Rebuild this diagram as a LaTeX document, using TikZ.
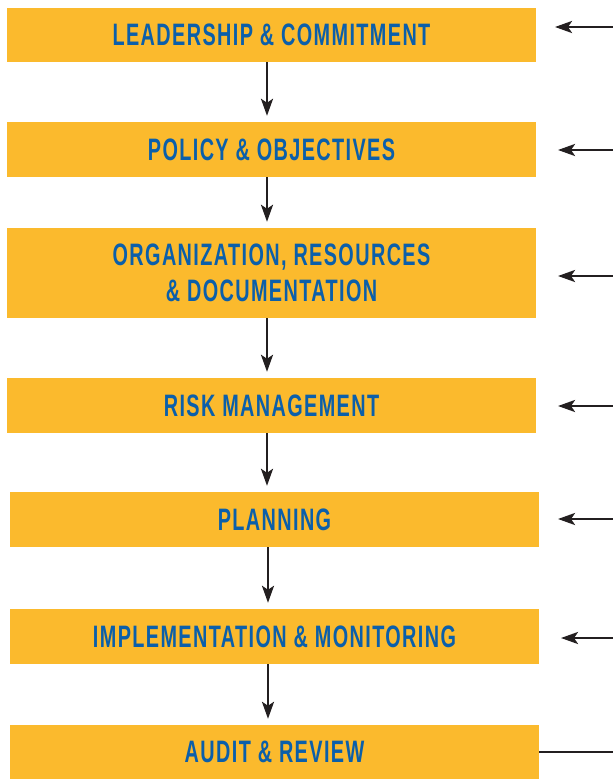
\documentclass[tikz,border=0pt]{standalone}
\usepackage{fontspec}
\newfontfamily\boxfont[FakeStretch=0.64,LetterSpace=4.5]{Liberation Sans}
\usetikzlibrary{arrows.meta}
\definecolor{boxyellow}{HTML}{FBBA2D}
\definecolor{boxblue}{HTML}{0B5FAA}
\definecolor{arrowdark}{HTML}{231F20}
\begin{document}
\begin{tikzpicture}[x=1pt,y=-1pt,
  stepbox/.style={fill=boxyellow, draw=none, minimum width=529pt, inner sep=0pt,
    font=\boxfont\bfseries\fontsize{31}{36}\selectfont, text=boxblue, align=center},
  tip/.style={-{Stealth[length=17pt,width=12pt,inset=4pt]}},
  down/.style={draw=arrowdark, line width=2.6pt, tip, shorten >=6pt},
  feed/.style={draw=arrowdark, line width=2.6pt, tip},
  plain/.style={draw=arrowdark, line width=2.6pt}]
\useasboundingbox (0,0) rectangle (613,779);
\node[stepbox, minimum height=54pt] (b1) at (271.5,35) {LEADERSHIP \& COMMITMENT};
\node[stepbox, minimum height=55pt] (b2) at (271.5,149.5) {POLICY \& OBJECTIVES};
\node[stepbox, minimum height=90pt] (b3) at (271.5,273) {ORGANIZATION, RESOURCES\\\& DOCUMENTATION};
\node[stepbox, minimum height=55pt] (b4) at (271.5,405.5) {RISK MANAGEMENT};
\node[stepbox, minimum height=55pt] (b5) at (274.5,519.5) {PLANNING};
\node[stepbox, minimum height=55pt] (b6) at (274.5,636.5) {IMPLEMENTATION \& MONITORING};
\node[stepbox, minimum height=54pt] (b7) at (274.5,752) {AUDIT \& REVIEW};
% vertical guide coordinates
\coordinate (ax) at (267,0);
\coordinate (bx) at (268,0);
\draw[down] (b1.south -| ax) -- (b2.north -| ax);
\draw[down] (b2.south -| ax) -- (b3.north -| ax);
\draw[down] (b3.south -| ax) -- (b4.north -| ax);
\draw[down] (b4.south -| ax) -- (b5.north -| ax);
\draw[down] (b5.south -| bx) -- (b6.north -| bx);
\draw[down] (b6.south -| bx) -- (b7.north -| bx);
% feedback arrows from the right
\coordinate (r1) at (613,27);  \coordinate (t1) at (555,27);
\coordinate (r2) at (613,150); \coordinate (t2) at (558,150);
\coordinate (r3) at (613,276); \coordinate (t3) at (558,276);
\coordinate (r4) at (613,406); \coordinate (t4) at (558,406);
\coordinate (r5) at (613,519); \coordinate (t5) at (558,519);
\coordinate (r6) at (613,638); \coordinate (t6) at (561,638);
\coordinate (r7) at (613,752);
\draw[feed] (r1) -- (t1);
\draw[feed] (r2) -- (t2);
\draw[feed] (r3) -- (t3);
\draw[feed] (r4) -- (t4);
\draw[feed] (r5) -- (t5);
\draw[feed] (r6) -- (t6);
\draw[plain] (b7.east |- r7) -- (r7);
\end{tikzpicture}
\end{document}
